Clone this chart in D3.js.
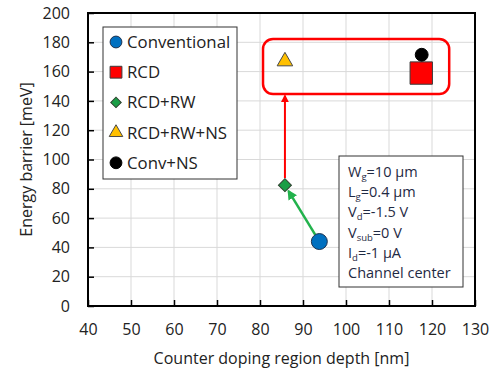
<!DOCTYPE html>
<html>
<head>
<meta charset="utf-8">
<script src="https://cdn.jsdelivr.net/npm/d3@7"></script>
<style>
  body { margin: 0; background: #fff; }
  svg { font-family: "Open Sans", sans-serif; }
</style>
</head>
<body>
<div id="chart"></div>
<script>
// data
var seriesNames = ["Conventional", "RCD", "RCD+RW", "RCD+RW+NS", "Conv+NS"];
var depthValues = [93.8, 117.5, 85.8, 85.8, 117.6];
var barrierValues = [44, 159, 82.5, 167, 171.5];
var xTicks = [40, 50, 60, 70, 80, 90, 100, 110, 120, 130];
var yTicks = [0, 20, 40, 60, 80, 100, 120, 140, 160, 180, 200];
var infoLines = [
  ["W", "g", "=10 µm"],
  ["L", "g", "=0.4 µm"],
  ["V", "d", "=-1.5 V"],
  ["V", "sub", "=0 V"],
  ["I", "d", "=-1 µA"],
  ["Channel center", "", ""]
];

var width = 496, height = 372;
var margins = { left: 88, right: 21, top: 13, bottom: 66 };

var svg = d3.select("#chart").append("svg")
  .attr("width", width).attr("height", height);

var xScale = d3.scaleLinear().domain([40, 130])
  .range([margins.left, width - margins.right]);
var yScale = d3.scaleLinear().domain([0, 200])
  .range([height - margins.bottom, margins.top]);

// diamond is a square turned 45 degrees
var styles = [
  { shape: d3.symbolCircle, size: 200, rot: 0, fill: "#0070c0", stroke: "#1f3350" },
  { shape: d3.symbolSquare, size: 500, rot: 0, fill: "#ff0000", stroke: "#3a3a3a" },
  { shape: d3.symbolSquare, size: 85, rot: 45, fill: "#1a9e46", stroke: "#2f3f2f" },
  { shape: d3.symbolTriangle, size: 105, rot: 0, fill: "#ffc000", stroke: "#4a4a4a" },
  { shape: d3.symbolCircle, size: 130, rot: 0, fill: "#000000", stroke: "#000000" }
];
var legendSizes = [110, 140, 55, 80, 110];

// grid
svg.append("g").selectAll("line.gx").data(xTicks).enter().append("line")
  .attr("x1", d => xScale(d)).attr("x2", d => xScale(d))
  .attr("y1", yScale(0)).attr("y2", yScale(200))
  .attr("stroke", "#d9d9d9").attr("stroke-width", 1);
svg.append("g").selectAll("line.gy").data(yTicks).enter().append("line")
  .attr("y1", d => yScale(d)).attr("y2", d => yScale(d))
  .attr("x1", xScale(40)).attr("x2", xScale(130))
  .attr("stroke", "#d9d9d9").attr("stroke-width", 1);

// axes with inward ticks
var xAxis = d3.axisBottom(xScale).tickValues(xTicks).tickSize(-6).tickPadding(18);
var yAxis = d3.axisLeft(yScale).tickValues(yTicks).tickSize(-6).tickPadding(18);

var gx = svg.append("g").attr("transform", `translate(0,${yScale(0)})`).call(xAxis);
var gy = svg.append("g").attr("transform", `translate(${xScale(40)},0)`).call(yAxis);
[gx, gy].forEach(function (g) {
  g.select(".domain").remove();
  g.selectAll(".tick line").attr("stroke", "#000").attr("stroke-width", 1.5);
  g.selectAll(".tick text").attr("font-size", 16).attr("fill", "#222")
    .attr("font-family", "Open Sans, sans-serif");
});

// frame
svg.append("rect")
  .attr("x", xScale(40)).attr("y", yScale(200))
  .attr("width", xScale(130) - xScale(40)).attr("height", yScale(0) - yScale(200))
  .attr("fill", "none").attr("stroke", "#000").attr("stroke-width", 2);

// axis titles
svg.append("text")
  .attr("x", (xScale(40) + xScale(130)) / 2).attr("y", 364)
  .attr("text-anchor", "middle").attr("font-size", 16).attr("fill", "#222")
  .text("Counter doping region depth [nm]");
svg.append("text")
  .attr("transform", `translate(32,${(yScale(0) + yScale(200)) / 2}) rotate(-90)`)
  .attr("text-anchor", "middle").attr("font-size", 16).attr("fill", "#222")
  .text("Energy barrier [meV]");

// arrow heads
var defs = svg.append("defs");
[["arrRed", "#ff0000"], ["arrGreen", "#22b24c"]].forEach(function (a) {
  defs.append("marker").attr("id", a[0])
    .attr("viewBox", "0 0 10 10").attr("refX", 8).attr("refY", 5)
    .attr("markerWidth", 4).attr("markerHeight", 4).attr("orient", "auto")
    .append("path").attr("d", "M0,0 L10,5 L0,10 z").attr("fill", a[1]);
});

// red rounded box around the NS points
svg.append("rect")
  .attr("x", xScale(80.7)).attr("y", yScale(182.3))
  .attr("width", xScale(124) - xScale(80.7)).attr("height", yScale(144.7) - yScale(182.3))
  .attr("rx", 10).attr("ry", 10)
  .attr("fill", "none").attr("stroke", "#ff0000").attr("stroke-width", 2.5);

// red arrow: RCD+RW up to the box
svg.append("line")
  .attr("x1", xScale(depthValues[2])).attr("y1", yScale(barrierValues[2]) - 7)
  .attr("x2", xScale(depthValues[2])).attr("y2", yScale(143.5))
  .attr("stroke", "#ff0000").attr("stroke-width", 2)
  .attr("marker-end", "url(#arrRed)");

// green arrow: Conventional to RCD+RW
var gx1 = xScale(depthValues[0]), gy1 = yScale(barrierValues[0]);
var gx2 = xScale(depthValues[2]), gy2 = yScale(barrierValues[2]);
var dx = gx2 - gx1, dy = gy2 - gy1, len = Math.sqrt(dx * dx + dy * dy);
svg.append("line")
  .attr("x1", gx1 + dx / len * 8).attr("y1", gy1 + dy / len * 8)
  .attr("x2", gx2 - dx / len * 7).attr("y2", gy2 - dy / len * 7)
  .attr("stroke", "#22b24c").attr("stroke-width", 2.5)
  .attr("marker-end", "url(#arrGreen)");

// points
svg.append("g").selectAll("path.pt").data(seriesNames).enter().append("path")
  .attr("class", "pt")
  .attr("transform", (d, i) => `translate(${xScale(depthValues[i])},${yScale(barrierValues[i])}) rotate(${styles[i].rot})`)
  .attr("d", (d, i) => d3.symbol().type(styles[i].shape).size(styles[i].size)())
  .attr("fill", (d, i) => styles[i].fill)
  .attr("stroke", (d, i) => styles[i].stroke).attr("stroke-width", 1);

// legend
var legend = svg.append("g");
legend.append("rect")
  .attr("x", 103).attr("y", 27).attr("width", 134).attr("height", 152)
  .attr("fill", "#fff").attr("stroke", "#333").attr("stroke-width", 1);
var items = legend.selectAll("g.item").data(seriesNames).enter().append("g")
  .attr("transform", (d, i) => `translate(116,${42 + i * 30.2})`);
items.append("path")
  .attr("transform", (d, i) => `rotate(${styles[i].rot})`)
  .attr("d", (d, i) => d3.symbol().type(styles[i].shape).size(legendSizes[i])())
  .attr("fill", (d, i) => styles[i].fill)
  .attr("stroke", (d, i) => styles[i].stroke).attr("stroke-width", 1);
items.append("text")
  .attr("x", 11).attr("y", 6).attr("font-size", 16.8).attr("fill", "#222")
  .text(d => d);

// info box
var info = svg.append("g");
info.append("rect")
  .attr("x", 339).attr("y", 156).attr("width", 124).attr("height", 131)
  .attr("fill", "#fff").attr("stroke", "#333").attr("stroke-width", 1);
infoLines.forEach(function (l, i) {
  var t = info.append("text").attr("x", 348).attr("y", 177 + i * 20.2)
    .attr("font-size", 14.5).attr("fill", "#1f2a44");
  t.append("tspan").text(l[0]);
  if (l[1]) {
    t.append("tspan").attr("font-size", 9.5).attr("dy", 3).text(l[1]);
    t.append("tspan").attr("dy", -3).text(l[2]);
  }
});
</script>
</body>
</html>
